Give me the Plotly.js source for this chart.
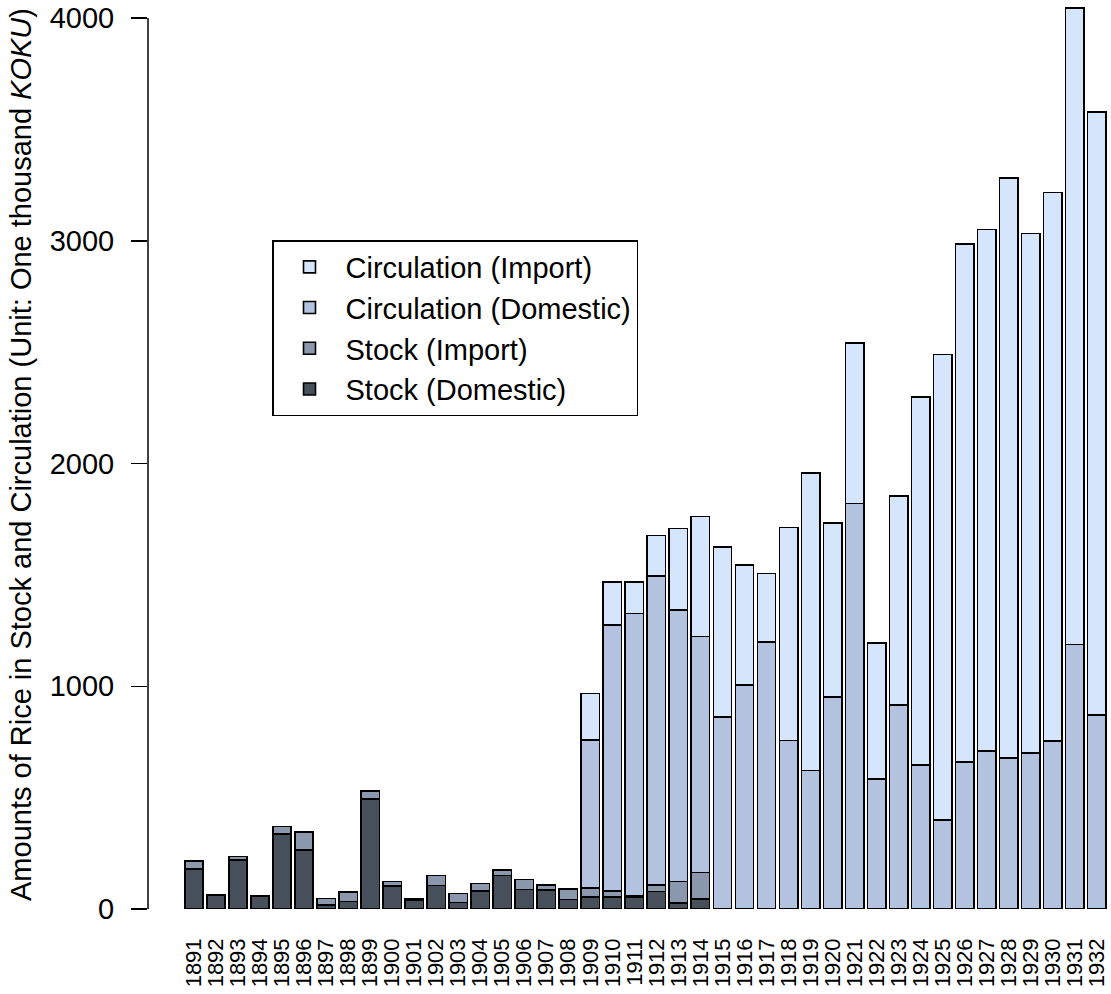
<!DOCTYPE html>
<html>
<head>
<meta charset="utf-8">
<script src="https://cdn.plot.ly/plotly-3.0.1.min.js"></script>
<style>
html,body{margin:0;padding:0;background:#fff;overflow:hidden;}
#chart{width:1111px;height:994px;}
</style>
</head>
<body>
<div id="chart"></div>
<script>
// ---- data (thousand koku) ----
const years = ["1891","1892","1893","1894","1895","1896","1897","1898","1899","1900",
  "1901","1902","1903","1904","1905","1906","1907","1908","1909","1910",
  "1911","1912","1913","1914","1915","1916","1917","1918","1919","1920",
  "1921","1922","1923","1924","1925","1926","1927","1928","1929","1930",
  "1931","1932"];

const stockDomestic = [180,62,220,58,337,264,18,33,495,102,
  40,105,30,82,151,88,84,42,55,55,
  55,78,28,45,0,0,0,0,0,0,
  0,0,0,0,0,0,0,0,0,0,
  0,0];

const stockImport = [35,4,15,2,33,82,30,42,35,21,
  4,45,39,32,23,45,24,49,38,26,
  5,30,95,118,0,0,0,0,0,0,
  0,0,0,0,0,0,0,0,0,0,
  0,0];

const circDomestic = [0,0,0,0,0,0,0,0,0,0,
  0,0,0,0,0,0,0,0,667,1193,
  1266,1388,1219,1061,863,1006,1199,757,621,953,
  1820,584,916,646,400,660,709,678,700,754,
  1187,872];

const circImport = [0,0,0,0,0,0,0,0,0,0,
  0,0,0,0,0,0,0,0,208,194,
  143,180,367,539,762,538,308,955,1336,779,
  721,609,937,1654,2090,2325,2341,2604,2333,2462,
  2858,2707];

const seriesNames = ["Stock (Domestic)","Stock (Import)","Circulation (Domestic)","Circulation (Import)"];
const seriesColors = ["#474f5b","#8a97ad","#b3c3df","#d4e5fc"];
const seriesValues = [stockDomestic, stockImport, circDomestic, circImport];
const yTicks = [0,1000,2000,3000,4000];

const FONT = "Liberation Sans, Arial, Helvetica, sans-serif";

const traces = seriesValues.map((vals, k) => ({
  type: "bar",
  name: seriesNames[k],
  x: years,
  y: vals,
  marker: {color: seriesColors[k], line: {color: "#000000", width: 1.6}},
  hoverinfo: "x+y+name"
}));

const layout = {
  width: 1111,
  height: 994,
  margin: {l: 148, r: 0, t: 0, b: 85, pad: 0},
  paper_bgcolor: "#ffffff",
  plot_bgcolor: "#ffffff",
  barmode: "stack",
  bargap: 0.1667,
  font: {family: FONT, color: "#000000", size: 29},
  showlegend: true,
  legend: {
    x: (272 - 148) / 963,
    y: 1 - 240 / 909,
    xanchor: "left",
    yanchor: "top",
    traceorder: "reversed",
    itemwidth: 62,
    bgcolor: "#ffffff",
    bordercolor: "#000000",
    borderwidth: 1.5,
    font: {family: FONT, size: 29, color: "#000000"}
  },
  xaxis: {
    type: "category",
    range: [-2.09, 41.645],
    tickmode: "array",
    tickvals: years,
    ticktext: years,
    showgrid: false,
    zeroline: false,
    showline: false,
    ticks: "",
    tickangle: -90,
    tickfont: {family: FONT, size: 22, color: "#000000"},
    ticklabelstandoff: 24,
    fixedrange: true
  },
  yaxis: {
    range: [0, 4081],
    tickvals: yTicks,
    ticktext: yTicks.map(String),
    showgrid: false,
    zeroline: false,
    showline: false,
    ticks: "outside",
    ticklen: 16,
    tickwidth: 1.5,
    tickcolor: "#000000",
    tickfont: {family: FONT, size: 29, color: "#000000"},
    ticklabelstandoff: 11,
    automargin: false,
    title: {
      text: "Amounts of Rice in Stock and Circulation (Unit: One thousand <i>KOKU</i>)",
      font: {family: FONT, size: 29, color: "#000000"},
      standoff: 9
    },
    fixedrange: true
  },
  shapes: [{
    type: "line",
    xref: "paper", x0: 0, x1: 0,
    yref: "y", y0: yTicks[0], y1: yTicks[yTicks.length - 1],
    line: {color: "#000000", width: 1.5}
  }]
};

Plotly.newPlot("chart", traces, layout, {displayModeBar: false, staticPlot: true});
</script>
</body>
</html>
